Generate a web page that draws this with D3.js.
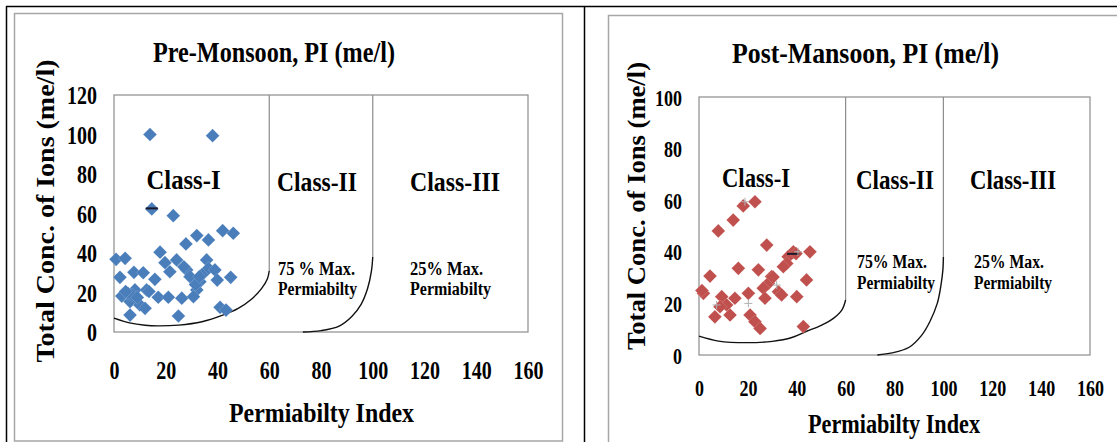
<!DOCTYPE html>
<html>
<head>
<meta charset="utf-8">
<script src="https://cdn.jsdelivr.net/npm/d3@7"></script>
<style>
  html, body { margin: 0; padding: 0; background: #fff; }
  svg { display: block; }
  text { font-family: "Liberation Serif", "Times New Roman", serif; font-weight: bold; fill: #000; }
</style>
</head>
<body>
<svg id="chart" width="1117" height="442"></svg>
<script>
// ---- Data ----------------------------------------------------------------
const xTicks = [0, 20, 40, 60, 80, 100, 120, 140, 160];
const preYTicks = [0, 20, 40, 60, 80, 100, 120];
const postYTicks = [0, 20, 40, 60, 80, 100];

// Pre-monsoon samples: permeability index (x) vs total ion concentration (y)
const prePI = [13.9, 38.1, 14.6, 22.9, 42, 46.1, 32, 36.5, 27.8, 17.8,
  0.8, 4.3, 19.7, 24.2, 35.8, 36.5, 39, 28.1, 29.4, 39.9,
  45.1, 2.3, 7.7, 11.3, 15.8, 21.6, 33.2, 32, 30.7, 3,
  6.2, 8.1, 12.6, 17.1, 21, 26.2, 10, 12, 6.2, 24.9,
  41, 43.3, 5.5, 31.5, 34, 7, 13.5, 27, 33, 4.5, 9];
const preTC = [100, 99.4, 62.3, 58.9, 51.3, 50, 48.8, 46.6, 44.6, 40.4,
  36.8, 37.3, 35.1, 36.5, 36.5, 32.2, 31.4, 31.4, 28, 26.3,
  27.7, 27.7, 30.2, 30, 26.7, 30.5, 25.5, 21.3, 17.9, 18.2,
  15.4, 21.3, 21.3, 17.6, 17.6, 17.1, 13.7, 12, 8.6, 8.1,
  12.5, 11.1, 19.5, 24, 29, 18.8, 20.5, 33, 28, 20.5, 17.5];

// Post-monsoon samples
const postPI = [22.9, 18.1, 14, 7.9, 27.7, 45.4, 38.6, 36.5, 35.9, 34.5,
  16.1, 24.3, 4.5, 29.7, 44, 28.4, 26.3, 32.5, 33.8, 1.8,
  9.3, 14.7, 20.2, 27, 40, 11.3, 8.6, 12.7, 6.5, 20.9,
  22.9, 25, 42.7, 1.2, 39.7, 30.3];
const postTC = [59.4, 57.8, 52.3, 48.1, 42.6, 40, 40, 38.1, 35.5, 34.2,
  33.6, 33, 30.6, 30.4, 29.1, 27.8, 25.9, 24.5, 23.3, 23.9,
  22.6, 22, 23.9, 22, 22.6, 19.4, 18.7, 15.5, 14.8, 15.5,
  12.9, 10.3, 11, 25, 39.3, 30.2];

// Secondary markers drawn over the samples
const preDashPI = [14.6];
const preDashTC = [62.6];
const postDashPI = [38.5];
const postDashTC = [39.2];
const postPlusPI = [18.8, 7.2, 20.2, 40.5, 31.8];
const postPlusTC = [59.4, 19.4, 20, 40, 27.1];

// Class boundary curves (PI, total concentration)
const preClass1Edge = [[0, 7], [6, 4.6], [12, 3.4], [17, 3.1], [25, 3.5], [34, 5.2], [42, 8.5], [48, 12], [53, 16.5], [57, 22], [59.3, 27], [60, 31]];
const preClass2Edge = [[73, 0], [80, 0.7], [87, 3], [92, 8], [95.5, 14], [98, 22], [99.5, 31], [100, 38]];
const postClass1Edge = [[0, 7.3], [8, 5.4], [19.5, 4.8], [30, 5.3], [38, 6.8], [44, 9.2], [50, 11.5], [55, 14.2], [58.5, 17.5], [60, 21.3]];
const postClass2Edge = [[73, 0], [79, 0.8], [86, 3], [91, 7.5], [94.5, 13], [97.5, 20], [99, 27], [99.8, 33], [100, 38]];

const classNames = ["Class-I", "Class-II", "Class-III"];

// ---- Layout ---------------------------------------------------------------
const panels = [
  {
    title: "Pre-Monsoon, PI (me/l)",
    titleX: 274, titleY: 51, titleW: 242,
    plot: { x0: 114, x1: 528, y0: 332, y1: 95 },
    yMax: 120, yTicks: preYTicks,
    tickSize: 25, digitW: 10, yTickRight: 97, xTickY: 370,
    xTitleX: 321.5, xTitleY: 413, xTitleW: 185,
    yTitleX: 45, yTitleY: 211, yTitleW: 303,
    pi: prePI, tc: preTC, color: "#4a7ebb",
    dashPI: preDashPI, dashTC: preDashTC, plusPI: [], plusTC: [],
    edge1: preClass1Edge, edge2: preClass2Edge,
    classPos: [[183.5, 180, 74], [317, 182, 80], [455, 182, 90]],
    noteA: "75 % Max.", noteAX: 278, noteAW: 77,
    noteBX: 410, noteBW: 73,
    noteY1: 269, noteY2: 289, permW: [79, 81]
  },
  {
    title: "Post-Mansoon, PI (me/l)",
    titleX: 865.5, titleY: 52, titleW: 267,
    plot: { x0: 699, x1: 1090, y0: 355, y1: 97 },
    yMax: 100, yTicks: postYTicks,
    tickSize: 23, digitW: 9, yTickRight: 682, xTickY: 388,
    xTitleX: 894, xTitleY: 424, xTitleW: 172,
    yTitleX: 636, yTitleY: 206, yTitleW: 288,
    pi: postPI, tc: postTC, color: "#c0504d",
    dashPI: postDashPI, dashTC: postDashTC, plusPI: postPlusPI, plusTC: postPlusTC,
    edge1: postClass1Edge, edge2: postClass2Edge,
    classPos: [[756, 177.5, 68], [895, 180, 78], [1013, 180, 86]],
    noteA: "75% Max.", noteAX: 857, noteAW: 70,
    noteBX: 974, noteBW: 70,
    noteY1: 262, noteY2: 283, permW: [78, 78]
  }
];

const svg = d3.select("#chart");

// Outer table rules and chart-area frames
svg.append("rect").attr("x", 14.5).attr("y", 13.5).attr("width", 548).attr("height", 427.5)
  .attr("fill", "none").attr("stroke", "#a6a6a6").attr("stroke-width", 1.5);
svg.append("rect").attr("x", 608.5).attr("y", 15.5).attr("width", 540).attr("height", 440)
  .attr("fill", "none").attr("stroke", "#a6a6a6").attr("stroke-width", 1.5);
svg.append("line").attr("x1", 6).attr("x2", 1117).attr("y1", 6.5).attr("y2", 6.5).attr("stroke", "#000").attr("stroke-width", 1.5);
svg.append("line").attr("x1", 6.5).attr("x2", 6.5).attr("y1", 6).attr("y2", 442).attr("stroke", "#000").attr("stroke-width", 1.5);
svg.append("line").attr("x1", 584.5).attr("x2", 584.5).attr("y1", 6).attr("y2", 442).attr("stroke", "#000").attr("stroke-width", 1.5);

function fit(sel, w) {
  sel.attr("textLength", w).attr("lengthAdjust", "spacingAndGlyphs");
}

panels.forEach(p => {
  const g = svg.append("g");
  const x = d3.scaleLinear().domain([0, 160]).range([p.plot.x0, p.plot.x1]);
  const y = d3.scaleLinear().domain([0, p.yMax]).range([p.plot.y0, p.plot.y1]);

  // Plot-area frame
  g.append("rect")
    .attr("x", x(0)).attr("y", y(p.yMax))
    .attr("width", x(160) - x(0)).attr("height", y(0) - y(p.yMax))
    .attr("fill", "none").attr("stroke", "#8c8c8c").attr("stroke-width", 1.2);

  // Vertical class dividers (upper straight parts)
  const top1 = p.edge1[p.edge1.length - 1];
  const top2 = p.edge2[p.edge2.length - 1];
  [[top1[0], top1[1]], [top2[0], top2[1]]].forEach(([px, py]) => {
    g.append("line")
      .attr("x1", x(px)).attr("x2", x(px))
      .attr("y1", y(p.yMax)).attr("y2", y(py))
      .attr("stroke", "#8c8c8c").attr("stroke-width", 1.2);
  });

  // Curved class boundaries
  const line = d3.line().x(d => x(d[0])).y(d => y(d[1])).curve(d3.curveCatmullRom.alpha(0.5));
  [p.edge1, p.edge2].forEach(e => {
    g.append("path").attr("d", line(e))
      .attr("fill", "none").attr("stroke", "#111").attr("stroke-width", 1.4);
  });

  const tickStyle = sel => sel
    .style("font-family", '"Liberation Serif", "Times New Roman", serif')
    .style("font-weight", "bold").style("font-size", p.tickSize + "px").attr("fill", "#000")
    .attr("dy", "0.35em")
    .each(function () {
      d3.select(this).attr("textLength", p.digitW * this.textContent.length).attr("lengthAdjust", "spacingAndGlyphs");
    });

  // Axes
  const yAxis = d3.axisLeft(y).tickValues(p.yTicks).tickSize(0).tickPadding(p.plot.x0 - p.yTickRight);
  const ya = g.append("g").attr("transform", `translate(${x(0)},0)`).call(yAxis);
  ya.select(".domain").remove();
  ya.selectAll("text").call(tickStyle);

  const xAxis = d3.axisBottom(x).tickValues(xTicks).tickSize(0).tickPadding(0);
  const xa = g.append("g").attr("transform", `translate(0,${p.xTickY})`).call(xAxis);
  xa.select(".domain").remove();
  xa.selectAll("text").attr("y", 0).call(tickStyle);

  // Titles
  fit(g.append("text").attr("x", p.titleX).attr("y", p.titleY).attr("text-anchor", "middle")
    .attr("dominant-baseline", "central").style("font-size", "30px").text(p.title), p.titleW);
  fit(g.append("text").attr("x", p.xTitleX).attr("y", p.xTitleY).attr("text-anchor", "middle")
    .attr("dominant-baseline", "central").style("font-size", "27px").text("Permiabilty Index"), p.xTitleW);
  fit(g.append("text").attr("transform", `translate(${p.yTitleX},${p.yTitleY}) rotate(-90)`)
    .attr("text-anchor", "middle").attr("dominant-baseline", "central")
    .style("font-size", "26px").text("Total Conc. of Ions (me/l)"), p.yTitleW);

  // Class labels
  classNames.forEach((c, i) => {
    const [cx, cy, w] = p.classPos[i];
    fit(g.append("text").attr("x", cx).attr("y", cy).attr("text-anchor", "middle")
      .attr("dominant-baseline", "central").style("font-size", "27px").text(c), w);
  });

  // Permeability notes
  const notes = [
    [p.noteAX, p.noteY1, p.noteA, p.noteAW],
    [p.noteAX, p.noteY2, "Permiabilty", p.permW[0]],
    [p.noteBX, p.noteY1, "25% Max.", p.noteBW],
    [p.noteBX, p.noteY2, "Permiabilty", p.permW[1]]
  ];
  notes.forEach(([nx, ny, t, w]) => {
    fit(g.append("text").attr("x", nx).attr("y", ny).attr("dominant-baseline", "central")
      .style("font-size", "18px").text(t), w);
  });

  // Sample markers (diamonds)
  const pts = p.pi.map((v, i) => [v, p.tc[i]]);
  const diamond = d3.symbol().type(d3.symbolDiamond2).size(120);
  g.append("g").selectAll("path").data(pts).join("path")
    .attr("d", diamond)
    .attr("transform", d => `translate(${x(d[0])},${y(d[1])})`)
    .attr("fill", p.color).attr("stroke", "#ffffff").attr("stroke-opacity", 0.3).attr("stroke-width", 0.5);

  // Dash markers
  p.dashPI.forEach((v, i) => {
    g.append("line").attr("x1", x(v) - 6).attr("x2", x(v) + 6)
      .attr("y1", y(p.dashTC[i])).attr("y2", y(p.dashTC[i]))
      .attr("stroke", "#1a1a2a").attr("stroke-width", 2);
  });
  // Plus markers
  p.plusPI.forEach((v, i) => {
    const cx = x(v), cy = y(p.plusTC[i]);
    g.append("path").attr("d", `M${cx - 4},${cy}H${cx + 4}M${cx},${cy - 4}V${cy + 4}`)
      .attr("stroke", "#b0b0b0").attr("stroke-width", 1);
  });
});
</script>
</body>
</html>
